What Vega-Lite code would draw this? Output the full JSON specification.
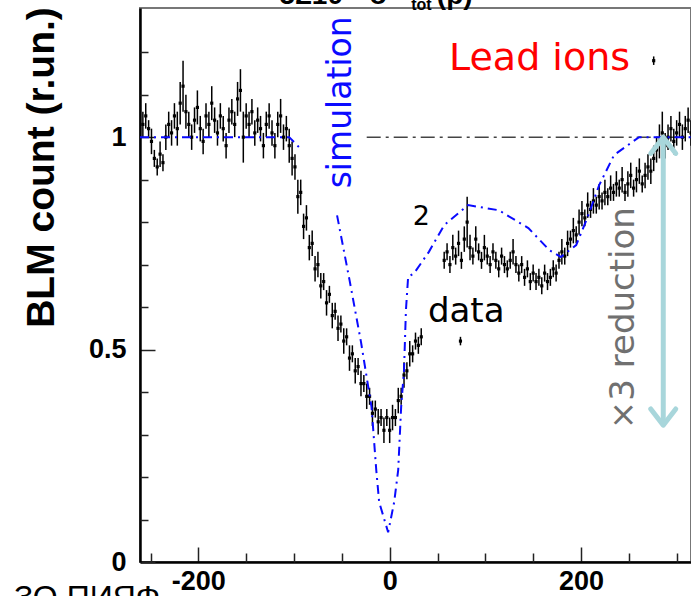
{
  "$schema": "https://vega.github.io/schema/vega-lite/v6.json",
  "width": 551,
  "height": 554,
  "autosize": {"type": "none"},
  "padding": {"left": 140, "top": 8, "right": 0, "bottom": 34},
  "background": "white",
  "config": {
    "view": {"stroke": "#777777", "strokeWidth": 2},
    "axis": {"grid": false, "labelFont": "Liberation Sans", "labelFontWeight": "bold", "labelFontSize": 27, "labelColor": "black", "tickColor": "#222222", "tickWidth": 1.5, "domainColor": "black", "domainWidth": 2.5}
  },
  "datasets": {
    "blm": [
      {"x":-258,"y":1.03,"e":0.03},{"x":-255,"y":1.05,"e":0.03},{"x":-252,"y":1.02,"e":0.02},{"x":-249,"y":0.99,"e":0.03},{"x":-246,"y":0.95,"e":0.02},{"x":-243,"y":0.93,"e":0.02},{"x":-240,"y":0.96,"e":0.03},{"x":-237,"y":0.94,"e":0.02},{"x":-234,"y":1.00,"e":0.03},{"x":-231,"y":1.03,"e":0.03},{"x":-228,"y":1.01,"e":0.03},{"x":-225,"y":1.05,"e":0.03},{"x":-222,"y":1.02,"e":0.04},{"x":-219,"y":1.08,"e":0.05},{"x":-216,"y":1.12,"e":0.06},{"x":-213,"y":1.06,"e":0.04},{"x":-210,"y":1.03,"e":0.03},{"x":-207,"y":1.00,"e":0.03},{"x":-204,"y":1.04,"e":0.03},{"x":-201,"y":1.07,"e":0.04},{"x":-198,"y":1.02,"e":0.03},{"x":-195,"y":0.99,"e":0.03},{"x":-192,"y":1.05,"e":0.03},{"x":-189,"y":1.03,"e":0.03},{"x":-186,"y":1.08,"e":0.04},{"x":-183,"y":1.04,"e":0.03},{"x":-180,"y":1.01,"e":0.03},{"x":-177,"y":1.05,"e":0.03},{"x":-174,"y":1.02,"e":0.03},{"x":-171,"y":0.98,"e":0.03},{"x":-168,"y":1.04,"e":0.03},{"x":-165,"y":1.06,"e":0.03},{"x":-162,"y":1.03,"e":0.03},{"x":-159,"y":1.09,"e":0.04},{"x":-156,"y":1.11,"e":0.05},{"x":-153,"y":1.00,"e":0.06},{"x":-150,"y":1.05,"e":0.03},{"x":-147,"y":1.03,"e":0.03},{"x":-144,"y":1.06,"e":0.03},{"x":-141,"y":1.01,"e":0.03},{"x":-138,"y":1.04,"e":0.03},{"x":-135,"y":1.02,"e":0.03},{"x":-132,"y":0.98,"e":0.03},{"x":-129,"y":1.03,"e":0.03},{"x":-126,"y":1.05,"e":0.03},{"x":-123,"y":1.01,"e":0.03},{"x":-120,"y":0.98,"e":0.03},{"x":-117,"y":1.03,"e":0.03},{"x":-114,"y":1.05,"e":0.04},{"x":-111,"y":1.00,"e":0.03},{"x":-108,"y":1.02,"e":0.03},{"x":-105,"y":0.98,"e":0.04},{"x":-102,"y":0.95,"e":0.04},
      {"x":-99,"y":0.93,"e":0.03},{"x":-96,"y":0.86,"e":0.04},{"x":-93,"y":0.87,"e":0.03},{"x":-90,"y":0.79,"e":0.03},{"x":-87,"y":0.81,"e":0.03},{"x":-84,"y":0.74,"e":0.03},{"x":-81,"y":0.75,"e":0.03},{"x":-78,"y":0.69,"e":0.03},{"x":-75,"y":0.70,"e":0.03},{"x":-72,"y":0.65,"e":0.03},{"x":-69,"y":0.66,"e":0.02},{"x":-66,"y":0.61,"e":0.03},{"x":-63,"y":0.63,"e":0.02},{"x":-60,"y":0.58,"e":0.03},{"x":-57,"y":0.59,"e":0.02},{"x":-54,"y":0.55,"e":0.03},{"x":-51,"y":0.56,"e":0.02},{"x":-48,"y":0.52,"e":0.03},{"x":-45,"y":0.53,"e":0.02},{"x":-42,"y":0.48,"e":0.03},{"x":-39,"y":0.49,"e":0.02},{"x":-36,"y":0.45,"e":0.03},{"x":-33,"y":0.46,"e":0.02},{"x":-30,"y":0.42,"e":0.03},{"x":-27,"y":0.42,"e":0.02},{"x":-24,"y":0.39,"e":0.03},{"x":-21,"y":0.39,"e":0.02},{"x":-18,"y":0.35,"e":0.03},{"x":-15,"y":0.36,"e":0.02},{"x":-12,"y":0.33,"e":0.03},{"x":-9,"y":0.34,"e":0.02},{"x":-6,"y":0.31,"e":0.03},{"x":-3,"y":0.34,"e":0.02},{"x":0,"y":0.31,"e":0.03},{"x":3,"y":0.34,"e":0.03},{"x":6,"y":0.34,"e":0.02},{"x":9,"y":0.38,"e":0.03},{"x":12,"y":0.39,"e":0.02},{"x":15,"y":0.44,"e":0.03},{"x":18,"y":0.45,"e":0.02},{"x":21,"y":0.49,"e":0.03},{"x":24,"y":0.49,"e":0.02},{"x":27,"y":0.52,"e":0.02},{"x":30,"y":0.51,"e":0.02},{"x":33,"y":0.53,"e":0.02},
      {"x":74,"y":0.52,"e":0.01},
      {"x":57,"y":0.71,"e":0.02},{"x":60,"y":0.73,"e":0.02},{"x":63,"y":0.70,"e":0.02},{"x":66,"y":0.74,"e":0.03},{"x":69,"y":0.72,"e":0.02},{"x":72,"y":0.75,"e":0.03},{"x":75,"y":0.71,"e":0.02},{"x":78,"y":0.76,"e":0.03},{"x":81,"y":0.80,"e":0.06},{"x":84,"y":0.74,"e":0.03},{"x":87,"y":0.72,"e":0.02},{"x":90,"y":0.76,"e":0.03},{"x":93,"y":0.73,"e":0.02},{"x":96,"y":0.71,"e":0.02},{"x":99,"y":0.74,"e":0.03},{"x":102,"y":0.72,"e":0.02},{"x":105,"y":0.70,"e":0.02},{"x":108,"y":0.73,"e":0.02},{"x":111,"y":0.71,"e":0.02},{"x":114,"y":0.69,"e":0.02},{"x":117,"y":0.72,"e":0.02},{"x":120,"y":0.70,"e":0.02},{"x":123,"y":0.69,"e":0.02},{"x":126,"y":0.71,"e":0.02},{"x":129,"y":0.73,"e":0.03},{"x":132,"y":0.70,"e":0.02},{"x":135,"y":0.68,"e":0.02},{"x":138,"y":0.70,"e":0.02},{"x":141,"y":0.67,"e":0.02},{"x":144,"y":0.69,"e":0.02},{"x":147,"y":0.66,"e":0.02},{"x":150,"y":0.68,"e":0.02},{"x":153,"y":0.66,"e":0.02},{"x":156,"y":0.67,"e":0.02},{"x":159,"y":0.65,"e":0.02},{"x":162,"y":0.68,"e":0.02},{"x":165,"y":0.66,"e":0.02},{"x":168,"y":0.67,"e":0.02},{"x":171,"y":0.69,"e":0.02},{"x":174,"y":0.68,"e":0.02},{"x":177,"y":0.71,"e":0.02},{"x":180,"y":0.73,"e":0.03},{"x":183,"y":0.72,"e":0.02},{"x":186,"y":0.75,"e":0.03},{"x":189,"y":0.76,"e":0.02},{"x":192,"y":0.78,"e":0.03},{"x":195,"y":0.77,"e":0.02},{"x":198,"y":0.80,"e":0.03},{"x":201,"y":0.82,"e":0.03},{"x":204,"y":0.81,"e":0.02},{"x":207,"y":0.84,"e":0.03},{"x":210,"y":0.83,"e":0.02},{"x":213,"y":0.85,"e":0.03},{"x":216,"y":0.84,"e":0.02},{"x":219,"y":0.86,"e":0.03},{"x":222,"y":0.85,"e":0.02},{"x":225,"y":0.87,"e":0.03},{"x":228,"y":0.86,"e":0.02},{"x":231,"y":0.88,"e":0.03},{"x":234,"y":0.87,"e":0.02},{"x":237,"y":0.89,"e":0.03},{"x":240,"y":0.88,"e":0.02},{"x":243,"y":0.90,"e":0.03},{"x":246,"y":0.87,"e":0.02},{"x":249,"y":0.89,"e":0.03},{"x":252,"y":0.91,"e":0.03},{"x":255,"y":0.88,"e":0.02},{"x":258,"y":0.90,"e":0.03},{"x":261,"y":0.92,"e":0.03},{"x":264,"y":0.89,"e":0.02},{"x":267,"y":0.91,"e":0.03},{"x":270,"y":0.93,"e":0.03},{"x":273,"y":0.92,"e":0.03},{"x":276,"y":0.95,"e":0.03},{"x":276,"y":1.18,"e":0.01},{"x":279,"y":0.97,"e":0.03},{"x":282,"y":0.99,"e":0.04},{"x":285,"y":1.01,"e":0.05},{"x":288,"y":0.98,"e":0.03},{"x":291,"y":1.00,"e":0.03},{"x":294,"y":1.02,"e":0.03},{"x":297,"y":0.99,"e":0.03},{"x":300,"y":1.01,"e":0.03},{"x":303,"y":1.03,"e":0.03},{"x":306,"y":1.00,"e":0.03},{"x":309,"y":1.02,"e":0.03},{"x":312,"y":1.04,"e":0.03},{"x":315,"y":1.01,"e":0.03}
    ],
    "sim": [
      {"x":-261,"y":1.0,"seg":"a"},{"x":-105,"y":1.0,"seg":"a"},{"x":-92,"y":0.97,"seg":"a"},{"x":-55,"y":0.816,"seg":"b"},{"x":-42,"y":0.664,"seg":"b"},{"x":-30,"y":0.518,"seg":"b"},{"x":-19,"y":0.365,"seg":"b"},{"x":-14,"y":0.216,"seg":"b"},{"x":-11,"y":0.141,"seg":"b"},{"x":-1.6,"y":0.07,"seg":"b"},{"x":4.7,"y":0.141,"seg":"b"},{"x":8.9,"y":0.216,"seg":"b"},{"x":12,"y":0.365,"seg":"b"},{"x":15,"y":0.452,"seg":"b"},{"x":17,"y":0.593,"seg":"b"},{"x":19.3,"y":0.671,"seg":"b"},{"x":25.6,"y":0.68,"seg":"b"},{"x":41,"y":0.73,"seg":"b"},{"x":57,"y":0.793,"seg":"b"},{"x":82,"y":0.84,"seg":"b"},{"x":114,"y":0.828,"seg":"b"},{"x":145,"y":0.786,"seg":"b"},{"x":167,"y":0.734,"seg":"b"},{"x":179,"y":0.718,"seg":"b"},{"x":195,"y":0.746,"seg":"b"},{"x":207,"y":0.812,"seg":"b"},{"x":219,"y":0.887,"seg":"b"},{"x":234.6,"y":0.958,"seg":"b"},{"x":260.7,"y":1.0,"seg":"b"},{"x":315,"y":1.0,"seg":"b"}
    ]
  },
  "resolve": {"axis": {"x": "independent", "y": "independent"}},
  "layer": [
    {
      "data": {"values": [{"x": -24, "y": 1}, {"x": 315, "y": 1}]},
      "mark": {"type": "line", "color": "#444444", "strokeWidth": 1.5, "strokeDash": [14, 5, 3, 5]},
      "encoding": {
        "x": {"field": "x", "type": "quantitative", "scale": {"domain": [-261, 315], "nice": false, "zero": false}, "axis": null},
        "y": {"field": "y", "type": "quantitative", "scale": {"domain": [0, 1.304], "nice": false, "zero": false}, "axis": null}
      }
    },
    {
      "data": {"name": "blm"},
      "mark": {"type": "errorbar", "color": "black", "thickness": 1.5},
      "encoding": {
        "x": {"field": "x", "type": "quantitative", "scale": {"domain": [-261, 315], "nice": false, "zero": false}, "axis": null},
        "y": {"field": "y", "type": "quantitative", "scale": {"domain": [0, 1.304], "nice": false, "zero": false}, "axis": null},
        "yError": {"field": "e"}
      }
    },
    {
      "data": {"name": "blm"},
      "mark": {"type": "square", "color": "black", "size": 10, "opacity": 1},
      "encoding": {
        "x": {"field": "x", "type": "quantitative", "scale": {"domain": [-261, 315], "nice": false, "zero": false},
          "axis": {"orient": "bottom", "values": [-200, 0, 200], "labelExpr": "'' + datum.value", "tickSize": -15, "labelPadding": 21, "title": null}},
        "y": {"field": "y", "type": "quantitative", "scale": {"domain": [0, 1.304], "nice": false, "zero": false},
          "axis": {"orient": "left", "values": [0, 0.5, 1], "format": "~g", "tickSize": -15, "labelPadding": 29,
            "title": "BLM count  (r.un.)", "titleFont": "Liberation Sans", "titleFontWeight": "bold", "titleFontSize": 39, "titleColor": "black",
            "titleAngle": 270, "titleX": -99, "titleY": 159, "titleAlign": "center", "titleBaseline": "middle"}}
      }
    },
    {
      "data": {"name": "sim"},
      "mark": {"type": "line", "color": "#0a0aff", "strokeWidth": 2, "strokeDash": [9, 5, 2, 5]},
      "encoding": {
        "x": {"field": "x", "type": "quantitative", "scale": {"domain": [-261, 315], "nice": false, "zero": false},
          "axis": {"orient": "bottom", "values": [-250, -150, -100, -50, 50, 100, 150, 250, 300], "labels": false, "domain": false, "tickSize": -9, "title": null}},
        "y": {"field": "y", "type": "quantitative", "scale": {"domain": [0, 1.304], "nice": false, "zero": false},
          "axis": {"orient": "left", "values": [0.1, 0.2, 0.3, 0.4, 0.6, 0.7, 0.8, 0.9, 1.1, 1.2], "labels": false, "domain": false, "tickSize": -8, "title": null}},
        "detail": {"field": "seg"}
      }
    },
    {
      "data": {"values": [{"x": 286, "y": 1.0, "y2": 0.322}]},
      "mark": {"type": "rule", "color": "#a8d6db", "strokeWidth": 5},
      "encoding": {
        "x": {"field": "x", "type": "quantitative", "scale": {"domain": [-261, 315], "nice": false, "zero": false}, "axis": null},
        "y": {"field": "y", "type": "quantitative", "scale": {"domain": [0, 1.304], "nice": false, "zero": false}, "axis": null},
        "y2": {"field": "y2"}
      }
    },
    {
      "data": {"values": [{"x": 286, "y": 1.0}]},
      "mark": {"type": "point", "shape": "M-1,1.3L0,0L1,1.3", "filled": false, "color": "#a8d6db", "strokeWidth": 5, "size": 625, "opacity": 1, "strokeCap": "round", "strokeJoin": "round"},
      "encoding": {
        "x": {"field": "x", "type": "quantitative", "scale": {"domain": [-261, 315], "nice": false, "zero": false}, "axis": null},
        "y": {"field": "y", "type": "quantitative", "scale": {"domain": [0, 1.304], "nice": false, "zero": false}, "axis": null}
      }
    },
    {
      "data": {"values": [{"x": 286, "y": 0.322}]},
      "mark": {"type": "point", "shape": "M-1,-1.3L0,0L1,-1.3", "filled": false, "color": "#a8d6db", "strokeWidth": 5, "size": 625, "opacity": 1, "strokeCap": "round", "strokeJoin": "round"},
      "encoding": {
        "x": {"field": "x", "type": "quantitative", "scale": {"domain": [-261, 315], "nice": false, "zero": false}, "axis": null},
        "y": {"field": "y", "type": "quantitative", "scale": {"domain": [0, 1.304], "nice": false, "zero": false}, "axis": null}
      }
    },
    {
      "data": {"values": [{"x": 62, "y": 1.158, "t": "Lead ions"}]},
      "mark": {"type": "text", "color": "#ff0000", "font": "DejaVu Sans", "fontSize": 38, "align": "left", "baseline": "alphabetic"},
      "encoding": {
        "x": {"field": "x", "type": "quantitative", "scale": {"domain": [-261, 315], "nice": false, "zero": false}, "axis": null},
        "y": {"field": "y", "type": "quantitative", "scale": {"domain": [0, 1.304], "nice": false, "zero": false}, "axis": null},
        "text": {"field": "t"}
      }
    },
    {
      "data": {"values": [{"x": 40, "y": 0.565, "t": "data"}]},
      "mark": {"type": "text", "color": "black", "font": "DejaVu Sans", "fontSize": 34, "align": "left", "baseline": "alphabetic"},
      "encoding": {
        "x": {"field": "x", "type": "quantitative", "scale": {"domain": [-261, 315], "nice": false, "zero": false}, "axis": null},
        "y": {"field": "y", "type": "quantitative", "scale": {"domain": [0, 1.304], "nice": false, "zero": false}, "axis": null},
        "text": {"field": "t"}
      }
    },
    {
      "data": {"values": [{"x": 33, "y": 0.793, "t": "2"}]},
      "mark": {"type": "text", "color": "black", "font": "DejaVu Sans", "fontSize": 27, "align": "center", "baseline": "alphabetic"},
      "encoding": {
        "x": {"field": "x", "type": "quantitative", "scale": {"domain": [-261, 315], "nice": false, "zero": false}, "axis": null},
        "y": {"field": "y", "type": "quantitative", "scale": {"domain": [0, 1.304], "nice": false, "zero": false}, "axis": null},
        "text": {"field": "t"}
      }
    },
    {
      "data": {"values": [{"x": -40, "y": 1.082, "t": "simulation"}]},
      "mark": {"type": "text", "color": "#0a0aff", "font": "DejaVu Sans", "fontSize": 33, "align": "center", "baseline": "alphabetic", "angle": 270},
      "encoding": {
        "x": {"field": "x", "type": "quantitative", "scale": {"domain": [-261, 315], "nice": false, "zero": false}, "axis": null},
        "y": {"field": "y", "type": "quantitative", "scale": {"domain": [0, 1.304], "nice": false, "zero": false}, "axis": null},
        "text": {"field": "t"}
      }
    },
    {
      "data": {"values": [{"x": 255, "y": 0.574, "t": "×3 reduction"}]},
      "mark": {"type": "text", "color": "#707070", "font": "DejaVu Sans", "fontSize": 34, "align": "center", "baseline": "alphabetic", "angle": 270},
      "encoding": {
        "x": {"field": "x", "type": "quantitative", "scale": {"domain": [-261, 315], "nice": false, "zero": false}, "axis": null},
        "y": {"field": "y", "type": "quantitative", "scale": {"domain": [0, 1.304], "nice": false, "zero": false}, "axis": null},
        "text": {"field": "t"}
      }
    },
    {
      "data": {"values": [{"x": -82, "y": 1.313, "t": "5Σ10"}, {"x": -11, "y": 1.313, "t": "σ"}, {"x": 68, "y": 1.313, "t": "(p)"}]},
      "mark": {"type": "text", "color": "black", "font": "Liberation Sans", "fontWeight": "bold", "fontSize": 28, "align": "center", "baseline": "alphabetic"},
      "encoding": {
        "x": {"field": "x", "type": "quantitative", "scale": {"domain": [-261, 315], "nice": false, "zero": false}, "axis": null},
        "y": {"field": "y", "type": "quantitative", "scale": {"domain": [0, 1.304], "nice": false, "zero": false}, "axis": null},
        "text": {"field": "t"}
      }
    },
    {
      "data": {"values": [{"x": 22.5, "y": 1.299, "t": "tot"}]},
      "mark": {"type": "text", "color": "black", "font": "Liberation Sans", "fontWeight": "bold", "fontSize": 16, "align": "left", "baseline": "alphabetic"},
      "encoding": {
        "x": {"field": "x", "type": "quantitative", "scale": {"domain": [-261, 315], "nice": false, "zero": false}, "axis": null},
        "y": {"field": "y", "type": "quantitative", "scale": {"domain": [0, 1.304], "nice": false, "zero": false}, "axis": null},
        "text": {"field": "t"}
      }
    },
    {
      "data": {"values": [{"x": -240, "y": -0.05, "t": "ЗО ПИЯФ"}]},
      "mark": {"type": "text", "color": "black", "font": "Liberation Sans", "fontSize": 32, "align": "right", "baseline": "top"},
      "encoding": {
        "x": {"field": "x", "type": "quantitative", "scale": {"domain": [-261, 315], "nice": false, "zero": false}, "axis": null},
        "y": {"field": "y", "type": "quantitative", "scale": {"domain": [0, 1.304], "nice": false, "zero": false}, "axis": null},
        "text": {"field": "t"}
      }
    }
  ]
}
